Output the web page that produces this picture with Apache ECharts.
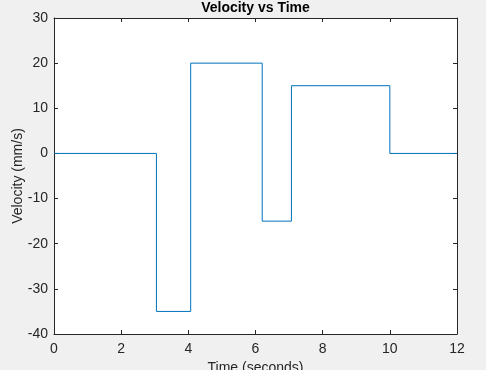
<!DOCTYPE html>
<html><head><meta charset="utf-8">
<script src="https://cdn.jsdelivr.net/npm/echarts@6/dist/echarts.min.js"></script>
<style>html,body{margin:0;padding:0;background:#f0f0f0;}#c{width:486px;height:370px;}</style>
</head><body><div id="c"></div>
<script>
const times = [0, 3.05, 4.07, 6.2, 7.07, 10, 12];
const velocities = [0, -35, 20, -15, 15, 0, 0];
const titleText = 'Velocity vs Time';
const xLabel = 'Time (seconds)';
const yLabel = 'Velocity (mm/s)';

const font = 'Liberation Sans, Arial, Helvetica, sans-serif';
const axisCol = '#262626';
const chart = echarts.init(document.getElementById('c'), null, {renderer: 'canvas'});
const L = 54, T = 18, W = 403, H = 316;
const common = {
  axisLine: {show: true, onZero: false, lineStyle: {color: axisCol, width: 1}},
  axisTick: {show: true, inside: true, length: 4, lineStyle: {color: axisCol}},
  splitLine: {show: false}
};
chart.setOption({
  backgroundColor: '#f0f0f0',
  animation: false,
  graphic: [{
    type: 'text', x: L + W / 2, y: 1,
    style: {text: titleText, font: 'bold 14px ' + font, fill: '#000', align: 'center', textAlign: 'center', verticalAlign: 'top'}
  }],
  grid: {left: L, top: T, width: W, height: H, show: true, backgroundColor: '#fff', borderWidth: 0,
    containLabel: false, outerBoundsMode: 'none'},
  xAxis: [
    Object.assign({type: 'value', min: 0, max: 12, interval: 2, position: 'bottom',
      name: xLabel, nameLocation: 'middle', nameGap: 26,
      nameTextStyle: {color: axisCol, fontSize: 14, fontFamily: font},
      axisLabel: {color: axisCol, fontSize: 14, fontFamily: font, margin: 8}}, common),
    Object.assign({type: 'value', min: 0, max: 12, interval: 2, position: 'top',
      axisLabel: {show: false}}, common)
  ],
  yAxis: [
    Object.assign({type: 'value', min: -40, max: 30, interval: 10, position: 'left',
      name: yLabel, nameLocation: 'middle', nameGap: 29, nameMoveOverlap: false,
      nameTextStyle: {color: axisCol, fontSize: 14, fontFamily: font},
      axisLabel: {color: axisCol, fontSize: 14, fontFamily: font, margin: 6}}, common),
    Object.assign({type: 'value', min: -40, max: 30, interval: 10, position: 'right',
      axisLabel: {show: false}}, common)
  ],
  series: [{
    type: 'line', step: 'end', xAxisIndex: 0, yAxisIndex: 0,
    data: times.map((t, i) => [t, velocities[i]]),
    showSymbol: false, symbol: 'none',
    lineStyle: {color: '#0072BD', width: 1}
  }]
});
</script></body></html>
